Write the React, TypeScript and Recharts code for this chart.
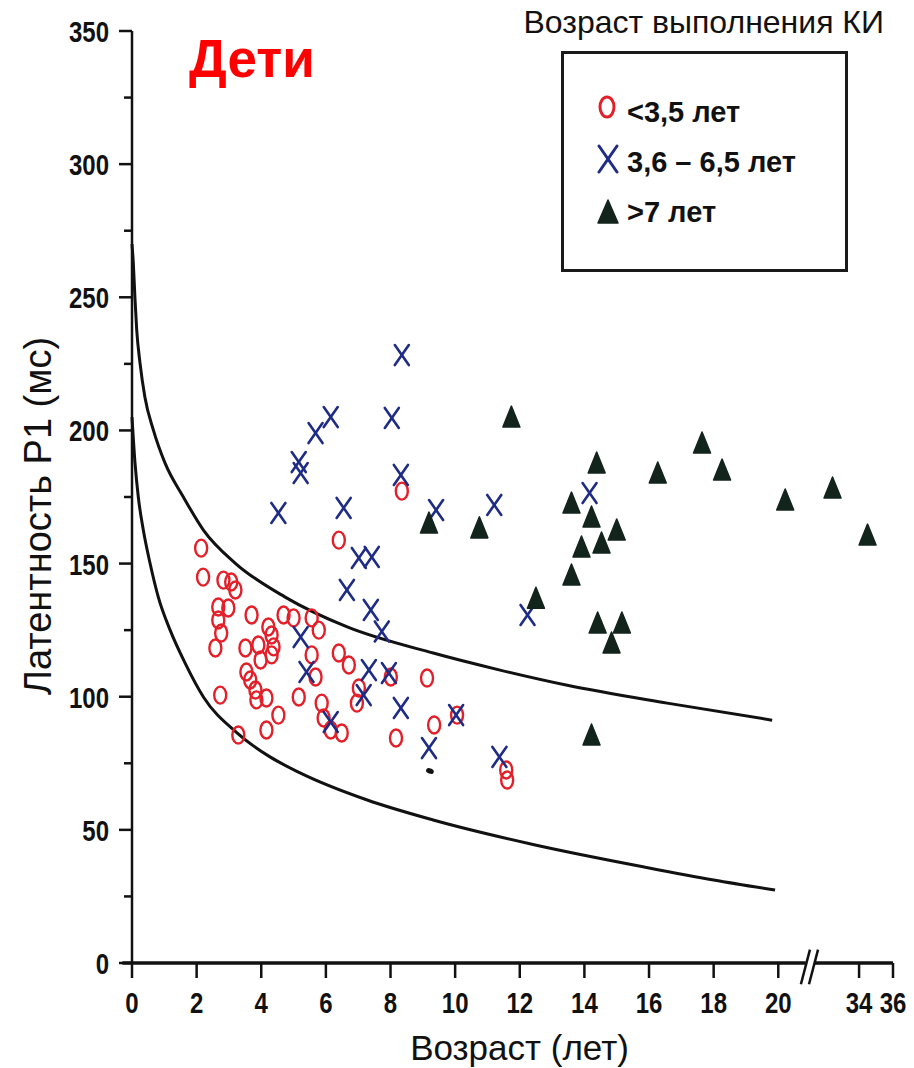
import React from 'react';
import { ComposedChart, Scatter, Line, XAxis, YAxis, ReferenceLine, Legend, Label } from 'recharts';

// ---------- data ----------
const xTickAges = [0, 2, 4, 6, 8, 10, 12, 14, 16, 18, 20, 34, 36];
const yTicks = [0, 25, 50, 75, 100, 125, 150, 175, 200, 225, 250, 275, 300, 325, 350];

// <3,5 лет (red circles)
const under35Age = [2.14, 2.2, 2.83, 3.07, 3.2, 2.67, 2.98, 3.7, 2.67, 2.76, 4.22, 4.69, 5.0, 5.56, 5.78, 4.32, 6.4, 2.58, 3.51, 3.91, 4.38, 3.98, 4.32, 5.56, 5.68, 6.4, 6.71, 3.54, 3.66, 3.82, 3.85, 4.16, 2.73, 5.16, 4.53, 4.16, 3.29, 5.87, 5.93, 6.15, 6.49, 7.02, 6.96, 8.01, 9.13, 9.35, 8.17, 10.06, 11.58, 11.61, 8.35];
const under35Lat = [155.8, 144.9, 143.8, 143.1, 140.1, 133.7, 133.3, 130.7, 128.8, 123.9, 126.2, 130.7, 129.6, 129.6, 125.0, 123.2, 158.8, 118.3, 118.3, 119.4, 118.7, 113.8, 115.7, 115.7, 107.4, 116.4, 111.9, 109.3, 106.3, 102.5, 98.8, 99.5, 100.6, 99.9, 93.1, 87.5, 85.6, 97.6, 92.0, 87.5, 86.4, 103.3, 97.6, 107.4, 107.0, 89.4, 84.5, 93.1, 72.5, 68.7, 177.2];

// 3,6 – 6,5 лет (blue crosses)
const midAge = [8.35, 6.15, 5.68, 8.04, 5.16, 5.22, 8.32, 4.53, 6.55, 9.41, 11.21, 7.02, 7.42, 6.65, 14.16, 7.39, 7.73, 5.22, 5.4, 7.33, 7.95, 7.17, 8.32, 6.15, 10.03, 9.19, 11.37, 12.24];
const midLat = [228.3, 205.0, 199.0, 204.7, 188.1, 184.0, 183.3, 169.0, 170.9, 170.1, 172.0, 152.1, 152.5, 140.1, 176.5, 132.6, 124.5, 122.4, 109.3, 110.0, 108.9, 100.6, 95.8, 90.5, 93.1, 80.7, 77.4, 130.7];

// >7 лет (dark triangles)
const over7Age = [11.74, 14.38, 16.27, 17.64, 18.26, 21.2, 29.4, 34.5, 13.6, 14.22, 9.19, 10.75, 13.91, 14.53, 15.0, 13.6, 12.5, 14.41, 15.16, 14.84, 14.22];
const over7Lat = [205.0, 187.8, 184.0, 195.3, 185.1, 173.9, 178.4, 160.7, 172.7, 167.5, 165.2, 163.4, 156.2, 157.7, 162.6, 145.7, 137.0, 127.7, 127.7, 120.2, 85.6];

// small ink dot in the scan
const inkAge = [9.22];
const inkLat = [72.1];

// normative boundary curves (read points)
const upperAge = [0, 0.04, 0.09, 0.146, 0.248, 0.4, 0.66, 1.02, 1.59, 2.21, 3.19, 4.74, 6.66, 9.32, 11.39, 13.47, 16.56, 19.81];
const upperLat = [270, 263, 250, 237.7, 225.3, 212.5, 200.2, 187.8, 175, 162.6, 150.2, 137.4, 126.2, 116.4, 110, 104.3, 97.6, 91.2];
const lowerAge = [0, 0.093, 0.195, 0.35, 0.557, 0.814, 1.18, 1.64, 2.21, 3.25, 4.27, 5.2, 7.28, 9.32, 12.41, 16.0, 18.0, 19.9];
const lowerLat = [205, 187.8, 175, 162.6, 150.2, 137.4, 125, 112.7, 99.9, 86.4, 77.4, 71.4, 61.2, 53.7, 44.5, 35.7, 31.2, 27.4];

// ---------- broken age axis ----------
function agePos(age: number): number {
  if (age <= 20) return age;
  if (age < 34) return 20 + ((age - 20) * 2.5) / 14;
  return 22.5 + (age - 34) * 0.525;
}

const build = (ages: number[], lats: number[]) => ages.map((a, i) => ({ age: a, pos: agePos(a), val: lats[i] }));

const under35 = build(under35Age, under35Lat);
const mid = build(midAge, midLat);
const over7 = build(over7Age, over7Lat);
const ink = build(inkAge, inkLat);
const upper = build(upperAge, upperLat);
const lower = build(lowerAge, lowerLat);
const xTicks = xTickAges.map(agePos);

const RED = '#e3202a';
const BLUE = '#1e2c86';
const DARK = '#13241d';
const INK = '#111';
const SANS = "'Liberation Sans', Arial, sans-serif";

// ---------- shapes ----------
const CircleShape = (p: any) => (
  <ellipse cx={p.cx} cy={p.cy} rx={6} ry={8.5} fill="none" stroke={RED} strokeWidth={2.4} />
);
const CrossShape = (p: any) => (
  <g stroke={BLUE} strokeWidth={2.6} strokeLinecap="round">
    <line x1={p.cx - 7} y1={p.cy - 10} x2={p.cx + 7} y2={p.cy + 10} />
    <line x1={p.cx + 7} y1={p.cy - 10} x2={p.cx - 7} y2={p.cy + 10} />
  </g>
);
const TriangleShape = (p: any) => (
  <path
    d={`M${p.cx},${p.cy - 11} L${p.cx + 8.5},${p.cy + 10} L${p.cx - 8.5},${p.cy + 10} Z`}
    fill={DARK}
    stroke={DARK}
    strokeWidth={1.5}
    strokeLinejoin="round"
  />
);
const InkShape = (p: any) => (
  <ellipse cx={p.cx} cy={p.cy} rx={4} ry={2.6} fill="#111" transform={`rotate(20 ${p.cx} ${p.cy})`} />
);

// condensed-looking tick text
const NarrowText = ({ x, y, anchor, children }: any) => (
  <text
    transform={`translate(${x} ${y}) scale(0.8 1)`}
    textAnchor={anchor}
    fontFamily={SANS}
    fontWeight="bold"
    fontSize={30}
    fill="#111"
  >
    {children}
  </text>
);

// ---------- ticks ----------
const YTick = (props: any) => {
  const { x, y, payload } = props;
  const v = payload.value as number;
  const major = v % 50 === 0;
  return (
    <g>
      <line x1={x - (major ? 13 : 8)} x2={x} y1={y} y2={y} stroke={INK} strokeWidth={2.5} />
      {major && (
        <NarrowText x={x - 23} y={y + 11} anchor="end">
          {v}
        </NarrowText>
      )}
    </g>
  );
};

const XTick = (props: any) => {
  const { x, y, payload } = props;
  const idx = xTicks.indexOf(payload.value);
  const label = idx >= 0 ? xTickAges[idx] : payload.value;
  return (
    <g>
      <line x1={x} x2={x} y1={y} y2={y + 15} stroke={INK} strokeWidth={2.5} />
      <NarrowText x={x} y={y + 50} anchor="middle">
        {label}
      </NarrowText>
    </g>
  );
};

// ---------- legend ----------
const LegendContent = () => (
  <svg width={914} height={280} style={{ display: 'block' }}>
    <text x={884} y={33} textAnchor="end" fontFamily={SANS} fontSize={32} fill="#111">
      Возраст выполнения КИ
    </text>
    <rect x={562.5} y={52.5} width={284} height={218} fill="none" stroke="#1a1a1a" strokeWidth={3} />
    <ellipse cx={607} cy={107} rx={7} ry={10} fill="none" stroke={RED} strokeWidth={3} />
    <text x={627} y={122} fontFamily={SANS} fontWeight="bold" fontSize={29} fill="#111">
      {'<3,5 лет'}
    </text>
    <g stroke={BLUE} strokeWidth={3} strokeLinecap="round">
      <line x1={599} y1={146} x2={617} y2={172} />
      <line x1={617} y1={146} x2={599} y2={172} />
    </g>
    <text x={627} y={172} fontFamily={SANS} fontWeight="bold" fontSize={29} fill="#111">
      3,6 – 6,5 лет
    </text>
    <path d="M608,200 L618,223 L598,223 Z" fill={DARK} stroke={DARK} strokeWidth={1.5} strokeLinejoin="round" />
    <text x={627} y={222} fontFamily={SANS} fontWeight="bold" fontSize={29} fill="#111">
      {'>7 лет'}
    </text>
  </svg>
);

export default function App() {
  return (
    <div style={{ position: 'absolute', left: 0, top: 0, width: 914, height: 1068, background: '#fff' }}>
      <ComposedChart width={914} height={1068} margin={{ top: 31, right: 21, bottom: 45, left: 32 }}>
        <XAxis
          type="number"
          dataKey="pos"
          domain={[0, 23.55]}
          ticks={xTicks}
          interval={0}
          axisLine={false}
          tickLine={false}
          tickSize={0}
          tickMargin={0}
          tick={<XTick />}
          height={60}
        >
          <Label
            content={(lp: any) => {
              const vb = lp.viewBox || { x: 132, width: 760, y: 963 };
              const cx = vb.x + vb.width / 2 + 7;
              return (
                <text x={cx} y={1060} textAnchor="middle" fontFamily={SANS} fontSize={35} fill="#111">
                  Возраст (лет)
                </text>
              );
            }}
          />
        </XAxis>
        <YAxis
          type="number"
          dataKey="val"
          domain={[0, 350]}
          ticks={yTicks}
          interval={0}
          axisLine={{ stroke: INK, strokeWidth: 2.5 }}
          tickLine={false}
          tickSize={0}
          tickMargin={0}
          tick={<YTick />}
          width={100}
        >
          <Label
            content={(lp: any) => {
              const vb = lp.viewBox || { y: 31, height: 932 };
              const cx = 38;
              const cy = vb.y + vb.height / 2 + 19;
              return (
                <text
                  x={cx}
                  y={cy}
                  transform={`rotate(-90 ${cx} ${cy})`}
                  textAnchor="middle"
                  dominantBaseline="central"
                  fontFamily={SANS}
                  fontSize={38}
                  fill="#111"
                >
                  Латентность Р1 (мс)
                </text>
              );
            }}
          />
        </YAxis>

        <ReferenceLine segment={[{ x: -0.3, y: 0 }, { x: 20.85, y: 0 }]} stroke={INK} strokeWidth={3.5} ifOverflow="visible" />
        <ReferenceLine segment={[{ x: 21.12, y: 0 }, { x: 23.55, y: 0 }]} stroke={INK} strokeWidth={3.5} ifOverflow="visible" />
        <ReferenceLine segment={[{ x: 20.7, y: -8 }, { x: 20.98, y: 5 }]} stroke={INK} strokeWidth={2.5} ifOverflow="visible" />
        <ReferenceLine segment={[{ x: 20.95, y: -8 }, { x: 21.23, y: 5 }]} stroke={INK} strokeWidth={2.5} ifOverflow="visible" />

        <Line data={upper} dataKey="val" type="monotone" stroke={INK} strokeWidth={3} dot={false} activeDot={false} isAnimationActive={false} legendType="none" />
        <Line data={lower} dataKey="val" type="monotone" stroke={INK} strokeWidth={3} dot={false} activeDot={false} isAnimationActive={false} legendType="none" />

        <Scatter name="<3,5 лет" data={under35} dataKey="val" shape={CircleShape} isAnimationActive={false} />
        <Scatter name="3,6 – 6,5 лет" data={mid} dataKey="val" shape={CrossShape} isAnimationActive={false} />
        <Scatter name=">7 лет" data={over7} dataKey="val" shape={TriangleShape} isAnimationActive={false} />
        <Scatter name="ink" data={ink} dataKey="val" shape={InkShape} isAnimationActive={false} legendType="none" />

        <Legend
          layout="vertical"
          align="center"
          verticalAlign="middle"
          content={() => <LegendContent />}
          wrapperStyle={{ position: 'absolute', left: 0, top: 0, width: 914, height: 280, pointerEvents: 'none' }}
        />
      </ComposedChart>
      <svg width={914} height={100} style={{ position: 'absolute', left: 0, top: 0, pointerEvents: 'none' }}>
        <text x={189} y={77} fontFamily={SANS} fontWeight="bold" fontSize={53} fill="#ff0000">
          Дети
        </text>
      </svg>
    </div>
  );
}
